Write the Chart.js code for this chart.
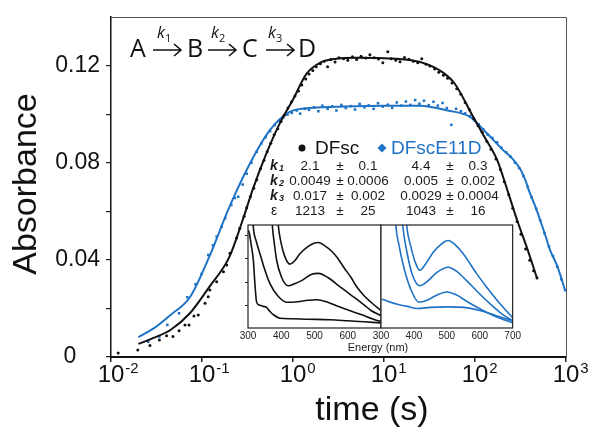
<!DOCTYPE html>
<html>
<head>
<meta charset="utf-8">
<script src="https://cdn.jsdelivr.net/npm/chart.js@4.4.0/dist/chart.umd.min.js"></script>
<style>
  html, body { margin: 0; padding: 0; background: #fff; }
  #wrap { position: relative; width: 600px; height: 437px; }
  canvas { position: absolute; }
</style>
</head>
<body>
<div id="wrap">
  <canvas id="main" width="600" height="437" style="left:0;top:0"></canvas>
  <canvas id="insetA" width="150" height="128" style="left:236px;top:222px"></canvas>
  <canvas id="insetB" width="154" height="128" style="left:369px;top:222px"></canvas>
</div>
<script>
// axis ticks
const timeTicks = [0.01, 0.1, 1, 10, 100, 1000];
const timeTickExp = ['-2', '-1', '0', '1', '2', '3'];
const absTickMarks = [0, 0.02, 0.04, 0.06, 0.08, 0.10, 0.12];
const absTicks = [0, 0.04, 0.08, 0.12];
const absTickLabels = ['0', '0.04', '0.08', '0.12'];

// DFsc (black) fit and measured points
const dfscFitTime = [0.02, 0.03, 0.045, 0.074, 0.12, 0.2, 0.28, 0.36, 0.5, 0.72, 1.0, 1.4, 2.0, 3, 5, 10, 20, 30, 45, 60, 95, 130, 175, 230, 290, 380, 480];
const dfscFitAbs = [0.0054, 0.008, 0.0111, 0.0181, 0.0288, 0.0412, 0.0564, 0.0688, 0.083, 0.0964, 0.106, 0.1165, 0.1212, 0.1228, 0.1232, 0.123, 0.1222, 0.1205, 0.117, 0.1125, 0.099, 0.09, 0.0812, 0.068, 0.0564, 0.044, 0.0325];
const dfscDotTime = [0.012, 0.0197, 0.0268, 0.034, 0.0408, 0.048, 0.056, 0.065, 0.072, 0.0815, 0.091, 0.108, 0.117, 0.122, 0.145, 0.172, 0.187, 0.203, 0.24, 0.26, 0.29, 0.31, 0.34, 0.37, 0.40, 0.44, 0.48, 0.52, 0.57, 0.62, 0.68, 0.74, 0.80, 0.88, 0.96, 1.05, 1.15, 1.25, 1.38, 1.5, 1.65, 1.8, 2.0, 2.2, 2.4, 2.6, 2.9, 3.2, 3.6, 4.0, 4.5, 5.0, 5.6, 6.3, 7.0, 7.8, 8.7, 9.7, 11, 12, 13.5, 15, 16.8, 18.8, 21, 23.5, 26, 29, 32, 36, 40, 45, 50, 56, 63, 70, 78, 87, 97, 108, 120, 135, 150, 170, 190, 210, 235, 260, 290, 320, 360, 400, 440, 480];
const dfscDotAbs = [0.0016, 0.0029, 0.0047, 0.007, 0.0087, 0.0084, 0.0108, 0.0132, 0.0132, 0.0169, 0.0173, 0.0221, 0.0248, 0.0276, 0.031, 0.0351, 0.0379, 0.0427, 0.049, 0.053, 0.058, 0.0615, 0.066, 0.0695, 0.073, 0.0775, 0.081, 0.0845, 0.088, 0.0915, 0.094, 0.097, 0.0995, 0.1025, 0.105, 0.1075, 0.1095, 0.112, 0.1145, 0.1165, 0.118, 0.1195, 0.1208, 0.1218, 0.1195, 0.1225, 0.1215, 0.1232, 0.1228, 0.1222, 0.1236, 0.1225, 0.1238, 0.1231, 0.1245, 0.1232, 0.1227, 0.1212, 0.1257, 0.1228, 0.1222, 0.1216, 0.1233, 0.1226, 0.1218, 0.1212, 0.1228, 0.1205, 0.1198, 0.1186, 0.1172, 0.116, 0.1148, 0.1128, 0.1105, 0.1082, 0.1048, 0.1018, 0.0982, 0.0952, 0.0925, 0.0888, 0.0855, 0.0815, 0.0772, 0.0722, 0.0668, 0.0612, 0.0558, 0.0505, 0.0445, 0.0398, 0.0355, 0.0325];

// DFscE11D (blue) fit and measured points
const e11dFitTime = [0.02, 0.03, 0.045, 0.074, 0.12, 0.2, 0.34, 0.56, 0.93, 1.5, 3, 10, 25, 50, 88, 135, 200, 260, 313, 360, 400, 460, 530, 600, 667, 800, 975];
const e11dFitAbs = [0.0082, 0.012, 0.0173, 0.0247, 0.0412, 0.0618, 0.080, 0.0935, 0.101, 0.1025, 0.103, 0.1035, 0.1035, 0.1015, 0.0989, 0.0921, 0.0855, 0.0815, 0.0775, 0.0725, 0.0676, 0.062, 0.0555, 0.0495, 0.0441, 0.0375, 0.0276];
const e11dDotTime = [0.0257, 0.034, 0.0416, 0.056, 0.069, 0.085, 0.099, 0.117, 0.132, 0.145, 0.165, 0.18, 0.21, 0.23, 0.25, 0.28, 0.31, 0.35, 0.40, 0.45, 0.50, 0.56, 0.63, 0.70, 0.78, 0.87, 0.97, 1.1, 1.2, 1.35, 1.5, 1.7, 1.9, 2.1, 2.4, 2.7, 3.0, 3.4, 3.8, 4.3, 4.8, 5.4, 6.1, 6.8, 7.7, 8.6, 9.7, 11, 12.3, 13.8, 15.5, 17.4, 19.5, 22, 24.5, 27.5, 31, 35, 39, 44, 49, 55, 62, 70, 78, 88, 98, 110, 123, 138, 155, 175, 195, 220, 245, 275, 305, 340, 380, 420, 470, 520, 580, 650, 720, 800, 890, 980];
const e11dDotAbs = [0.0063, 0.0084, 0.0132, 0.018, 0.0246, 0.030, 0.0342, 0.042, 0.046, 0.0496, 0.0537, 0.0571, 0.0626, 0.0655, 0.066, 0.071, 0.0755, 0.080, 0.0845, 0.088, 0.0905, 0.093, 0.0955, 0.0972, 0.0985, 0.0998, 0.1005, 0.1015, 0.1002, 0.1022, 0.1018, 0.1028, 0.1012, 0.1035, 0.1022, 0.1032, 0.1015, 0.1038, 0.1025, 0.1033, 0.1019, 0.1042, 0.1028, 0.1036, 0.1022, 0.1045, 0.1031, 0.1039, 0.1026, 0.1048, 0.1035, 0.1052, 0.1038, 0.1058, 0.1043, 0.1055, 0.1037, 0.1051, 0.1035, 0.1046, 0.1025, 0.0956, 0.1022, 0.1012, 0.1003, 0.0992, 0.0975, 0.0958, 0.0938, 0.0915, 0.0902, 0.0884, 0.0862, 0.0843, 0.0825, 0.080, 0.0778, 0.0745, 0.070, 0.0658, 0.061, 0.0563, 0.051, 0.0455, 0.0415, 0.0372, 0.032, 0.0275];

// inset spectra (wavelength nm, relative absorbance)
const energyTicks = [300, 400, 500, 600, 700];
const insetTickMarks = [0.215, 0.44, 0.67, 0.9];
const dfscSpectra = [
  [[385, 1.3], [391, 1.0], [400, 0.82], [410, 0.70], [426, 0.62], [440, 0.65], [456, 0.72], [480, 0.79], [500, 0.825], [512, 0.83], [530, 0.80], [550, 0.75], [567, 0.69], [590, 0.58], [610, 0.49], [627, 0.40], [650, 0.31], [670, 0.25], [692, 0.19], [700, 0.17]],
  [[368, 1.3], [373, 1.0], [380, 0.80], [386, 0.66], [400, 0.50], [421, 0.41], [440, 0.43], [461, 0.46], [490, 0.52], [512, 0.53], [540, 0.49], [577, 0.40], [610, 0.32], [647, 0.23], [670, 0.17], [700, 0.12]],
  [[312, 1.2], [316, 0.98], [325, 0.84], [336, 0.72], [350, 0.57], [366, 0.43], [390, 0.31], [416, 0.25], [450, 0.255], [480, 0.27], [507, 0.275], [540, 0.25], [570, 0.21], [597, 0.18], [640, 0.13], [692, 0.07], [700, 0.065]],
  [[301, 0.95], [304, 0.92], [310, 0.80], [316, 0.66], [321, 0.42], [326, 0.25], [336, 0.22], [346, 0.21], [356, 0.20], [366, 0.16], [376, 0.13], [396, 0.095], [430, 0.09], [480, 0.085], [547, 0.08], [600, 0.07], [650, 0.06], [700, 0.05]]
];
const e11dSpectra = [
  [[372, 1.3], [378, 1.0], [390, 0.80], [405, 0.63], [418, 0.56], [435, 0.62], [460, 0.74], [485, 0.82], [504, 0.85], [525, 0.81], [550, 0.72], [590, 0.53], [620, 0.40], [650, 0.28], [680, 0.17], [700, 0.10]],
  [[360, 1.3], [366, 1.0], [378, 0.75], [395, 0.52], [418, 0.41], [440, 0.45], [470, 0.54], [504, 0.59], [530, 0.55], [560, 0.46], [600, 0.33], [640, 0.21], [670, 0.13], [700, 0.07]],
  [[340, 1.3], [345, 1.0], [355, 0.80], [370, 0.58], [390, 0.38], [415, 0.25], [440, 0.27], [470, 0.32], [500, 0.35], [530, 0.32], [560, 0.26], [610, 0.17], [650, 0.11], [700, 0.05]],
  [[303, 0.28], [320, 0.26], [350, 0.23], [380, 0.21], [410, 0.19], [450, 0.20], [500, 0.205], [552, 0.20], [600, 0.17], [650, 0.12], [700, 0.07]]
];

// fitted parameters table
const seriesNames = ['DFsc', 'DFscE11D'];
const paramRows = [
  ['k', '1', '2.1', '±', '0.1', '4.4', '±', '0.3'],
  ['k', '2', '0.0049', '±', '0.0006', '0.005', '±', '0.002'],
  ['k', '3', '0.017', '±', '0.002', '0.0029', '±', '0.0004'],
  ['ε', '', '1213', '±', '25', '1043', '±', '16']
];

const BLACK = '#111111';
const BLUE = '#1f72c4';
const SANS = '"Liberation Sans", Arial, sans-serif';
const zip = (a, b) => a.map((v, i) => ({ x: v, y: b[i] }));

function arrow(ctx, x1, x2, y) {
  ctx.beginPath();
  ctx.moveTo(x1, y); ctx.lineTo(x2, y);
  ctx.moveTo(x2 - 7, y - 6); ctx.lineTo(x2, y); ctx.lineTo(x2 - 7, y + 6);
  ctx.stroke();
}

const annotate = {
  id: 'annotate',
  afterDraw(chart) {
    const { ctx, chartArea: a, scales: { x, y } } = chart;
    ctx.save();
    // top and right frame
    ctx.strokeStyle = '#555'; ctx.lineWidth = 1;
    ctx.beginPath();
    ctx.moveTo(a.left, a.top + 0.5); ctx.lineTo(a.right + 0.5, a.top + 0.5); ctx.lineTo(a.right + 0.5, a.bottom);
    ctx.stroke();

    // x tick labels 10^n
    ctx.fillStyle = BLACK; ctx.textBaseline = 'alphabetic'; ctx.textAlign = 'left';
    timeTicks.forEach((v, i) => {
      const px = x.getPixelForValue(v);
      ctx.font = '24px ' + SANS;
      const w = ctx.measureText('10').width;
      ctx.fillText('10', px - w / 2, 382);
      ctx.font = '15px ' + SANS;
      ctx.fillText(timeTickExp[i], px + w / 2 + 1, 373);
    });

    // y tick labels
    ctx.font = '23px ' + SANS; ctx.textBaseline = 'middle';
    absTicks.forEach((v, i) => {
      const py = y.getPixelForValue(v);
      if (v === 0) { ctx.textAlign = 'center'; ctx.fillText(absTickLabels[i], 70, py); }
      else { ctx.textAlign = 'right'; ctx.fillText(absTickLabels[i], 100, py); }
    });

    // axis titles
    ctx.font = '34px ' + SANS; ctx.textAlign = 'center'; ctx.textBaseline = 'alphabetic';
    ctx.fillText('time (s)', 372, 420);
    ctx.save();
    ctx.translate(36, 184); ctx.rotate(-Math.PI / 2);
    ctx.fillText('Absorbance', 0, 0);
    ctx.restore();

    // reaction scheme
    ctx.textAlign = 'left'; ctx.font = '25px "Open Sans", sans-serif';
    ctx.fillText('A', 130, 57); ctx.fillText('B', 187, 57); ctx.fillText('C', 242, 57); ctx.fillText('D', 298, 57);
    ctx.strokeStyle = BLACK; ctx.lineWidth = 1.6;
    arrow(ctx, 153, 181, 50); arrow(ctx, 208, 236, 50); arrow(ctx, 266, 294, 50);
    [[157, '1'], [211, '2'], [268, '3']].forEach(([kx, n]) => {
      ctx.font = 'italic 16px "Open Sans", sans-serif';
      ctx.fillText('k', kx, 38);
      ctx.font = '11px "Open Sans", sans-serif';
      ctx.fillText(n, kx + 8, 42);
    });

    // legend
    ctx.textBaseline = 'middle';
    ctx.fillStyle = BLACK;
    ctx.beginPath(); ctx.arc(302, 148, 3.5, 0, Math.PI * 2); ctx.fill();
    ctx.font = '19px ' + SANS;
    ctx.fillText(seriesNames[0], 315, 149);
    ctx.fillStyle = BLUE;
    ctx.beginPath(); ctx.moveTo(382, 143.5); ctx.lineTo(386.5, 148); ctx.lineTo(382, 152.5); ctx.lineTo(377.5, 148); ctx.closePath(); ctx.fill();
    ctx.fillText(seriesNames[1], 391, 149);

    // parameter table
    ctx.fillStyle = '#1a1a1a';
    const rowY = [166, 181, 196, 211];
    const colX = [310, 340, 368, 421, 450, 478];
    paramRows.forEach((r, i) => {
      ctx.textAlign = 'left';
      if (r[0] === 'k') {
        ctx.font = 'bold italic 14px ' + SANS; ctx.fillText(r[0], 270, rowY[i]);
        ctx.font = 'bold italic 9px ' + SANS; ctx.fillText(r[1], 279, rowY[i] + 3);
      } else {
        ctx.font = '14px ' + SANS; ctx.fillText(r[0], 271, rowY[i]);
      }
      ctx.font = '13.5px ' + SANS; ctx.textAlign = 'center';
      r.slice(2).forEach((s, j) => ctx.fillText(s, colX[j], rowY[i]));
    });

    // inset x title
    ctx.font = '11px ' + SANS; ctx.fillStyle = '#222';
    ctx.fillText('Energy (nm)', 378, 348);
    ctx.restore();
  }
};

new Chart(document.getElementById('main'), {
  type: 'scatter',
  data: {
    datasets: [
      { data: zip(dfscFitTime, dfscFitAbs), showLine: true, borderColor: BLACK, borderWidth: 2, pointRadius: 0, cubicInterpolationMode: 'monotone', order: 1 },
      { data: zip(dfscDotTime, dfscDotAbs), backgroundColor: BLACK, borderWidth: 0, pointRadius: 1.5, order: 2 },
      { data: zip(e11dDotTime, e11dDotAbs), backgroundColor: BLUE, borderWidth: 0, pointStyle: 'rect', pointRadius: 1.8, order: 3 },
      { data: zip(e11dFitTime, e11dFitAbs), showLine: true, borderColor: BLUE, borderWidth: 2, pointRadius: 0, cubicInterpolationMode: 'monotone', order: 4 }
    ]
  },
  options: {
    responsive: false, animation: false, devicePixelRatio: 1,
    layout: { padding: { left: 0, top: 17, right: 34, bottom: 0 } },
    plugins: { legend: { display: false }, tooltip: { enabled: false } },
    scales: {
      x: {
        type: 'logarithmic', min: 0.01, max: 1000,
        afterBuildTicks: s => { s.ticks = timeTicks.map(v => ({ value: v })); },
        afterFit: s => { s.height = 80; },
        ticks: { display: false },
        grid: { drawOnChartArea: false, tickLength: 5, color: '#222', lineWidth: 1.5 },
        border: { display: true, color: '#111', width: 2 }
      },
      y: {
        min: 0, max: 0.14,
        afterBuildTicks: s => { s.ticks = absTickMarks.map(v => ({ value: v })); },
        afterFit: s => { s.width = 111; },
        ticks: { display: false },
        grid: { drawOnChartArea: false, tickLength: 5, color: '#222', lineWidth: 1.2 },
        border: { display: true, color: '#111', width: 1.5 }
      }
    }
  },
  plugins: [annotate]
});

const insetFrame = {
  id: 'insetFrame',
  beforeDatasetsDraw(chart) {
    const { ctx, chartArea: a } = chart;
    ctx.save(); ctx.fillStyle = '#fff';
    ctx.fillRect(a.left, a.top, a.right - a.left, a.bottom - a.top);
    ctx.restore();
  },
  afterDraw(chart) {
    const { ctx, chartArea: a } = chart;
    ctx.save(); ctx.strokeStyle = '#222'; ctx.lineWidth = 1.2;
    ctx.strokeRect(a.left, a.top, a.right - a.left, a.bottom - a.top);
    ctx.restore();
  }
};

function makeInset(id, spectra, color, rightPad, lastLabel, yMarks) {
  return new Chart(document.getElementById(id), {
    type: 'scatter',
    data: {
      datasets: spectra.map(s => ({
        data: s.map(p => ({ x: p[0], y: p[1] })), showLine: true, borderColor: color,
        borderWidth: 1.6, pointRadius: 0, cubicInterpolationMode: 'monotone'
      }))
    },
    options: {
      responsive: false, animation: false, devicePixelRatio: 1,
      layout: { padding: { left: 12, top: 3, right: rightPad, bottom: 0 } },
      plugins: { legend: { display: false }, tooltip: { enabled: false } },
      scales: {
        x: {
          type: 'linear', min: 300, max: 700,
          afterBuildTicks: s => { s.ticks = energyTicks.map(v => ({ value: v })); },
          afterFit: s => { s.height = 22; },
          ticks: { font: { size: 10, family: SANS }, color: '#222', padding: 2, maxRotation: 0, autoSkip: false,
                   callback: v => (lastLabel || v < 700) ? String(v) : '' },
          grid: { display: false, drawTicks: false }, border: { display: false }
        },
        y: {
          min: 0, max: 1,
          afterBuildTicks: s => { s.ticks = yMarks.map(v => ({ value: v })); },
          afterFit: s => { s.width = 0; },
          ticks: { display: false },
          grid: { display: yMarks.length > 0, drawOnChartArea: false, tickLength: 3, color: '#222' },
          border: { display: false }
        }
      }
    },
    plugins: [insetFrame]
  });
}

makeInset('insetA', dfscSpectra, BLACK, 5, false, insetTickMarks);
makeInset('insetB', e11dSpectra, BLUE, 10, true, []);
</script>
</body>
</html>
